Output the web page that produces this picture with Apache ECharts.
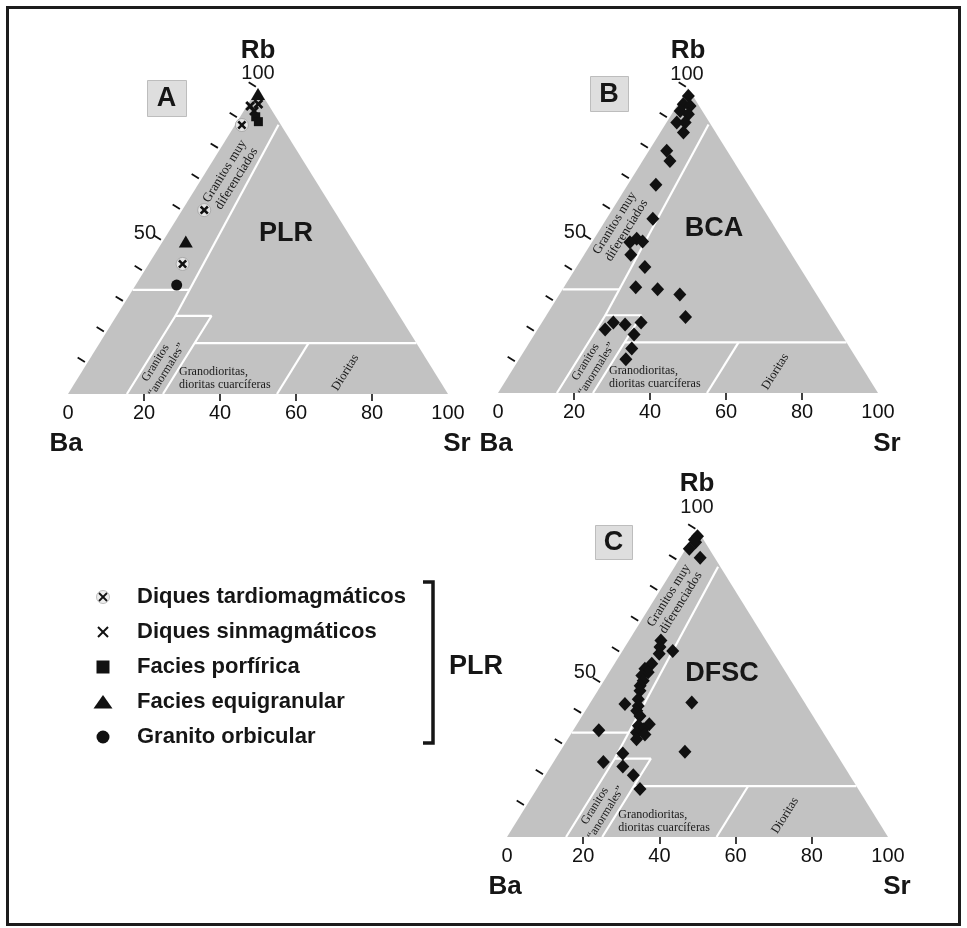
<!DOCTYPE html>
<html><head><meta charset="utf-8">
<script src="https://cdn.jsdelivr.net/npm/echarts@6/dist/echarts.min.js"></script>
<style>html,body{margin:0;padding:0;background:#fff}#c{width:967px;height:928px}</style>
</head><body><div id="c"></div>
<script>
// ===== DATA: compositions as [Sr %, Rb %]  (Ba = 100 - Sr - Rb) =====
// Diagram A - PLR
const plrDiquesTardio = [[1.8,87.9],[5.8,60.1],[8.9,42.5]];
const plrDiquesSinmag = [[0.9,94.1],[2.7,94.8],[2.7,92.5]];
const plrFaciesPorfirica = [[4.1,90.6],[5.6,89.0]];
const plrFaciesEquigranular = [[1.0,98.0],[6.1,49.8]];
const plrGranitoOrbicular = [[10.8,35.6]];
// Diagram B - BCA
const bcaSamples = [
  [1.4,97.4],[1.4,94.7],[3.5,94.1],[1.7,92.5],[4.4,91.4],[2.7,88.7],[4.9,88.7],[6.1,85.4],
  [4.7,79.4],[7.2,76.1],[7.4,68.3],[12.2,57.1],[11.2,50.6],[13.2,49.7],[10.0,49.4],[12.3,45.3],
  [18.0,41.3],[18.9,34.7],[25.0,34.0],[31.7,32.3],[36.9,24.9],[17.8,20.8],[18.8,23.1],[22.2,22.5],
  [26.1,23.1],[26.2,19.2],[27.9,14.6],[28.1,11.1]
];
// Diagram C - DFSC
const dfscSamples = [
  [1.0,98.0],[1.5,96.0],[0.8,96.8],[0.9,93.9],[5.2,91.0],
  [8.4,64.0],[9.2,61.9],[10.1,59.7],[13.2,60.6],[9.8,56.4],[8.8,54.8],[10.2,53.7],[9.1,52.6],
  [10.3,50.9],[10.3,49.3],[11.1,47.6],[12.0,44.9],[9.3,43.3],[13.1,42.7],[13.5,41.1],[15.2,39.4],
  [19.0,36.7],[16.4,36.2],[18.2,35.1],[17.0,34.0],[19.5,33.4],[18.1,31.8],
  [26.6,43.8],[6.7,34.8],[32.8,27.8],[16.8,27.2],[13.1,24.4],[18.9,23.0],[23.1,20.1],[27.1,15.6]
];
// Axis ticks / labels
const baseTickLabels = [0,20,40,60,80,100];
const baseTickMarks = [20,40,60,80];
const rbTicks = [10,20,30,40,50,60,70,80,90,100];
// Triangle vertices [Sr,Rb]: Ba, Sr, Rb
const vertices = [[0,0],[100,0],[0,100]];
// Field boundaries (polylines, [Sr,Rb])
const fieldBoundaries = [
  [[11.4,88],[15.5,25.5]],
  [[0,34],[14.9,34]],
  [[15.5,0],[15.5,25.5],[25,25.5],[25,0]],
  [[25,16.6],[83.4,16.6]],
  [[55,16.6],[55,0]]
];
const diagramNames = ['PLR','BCA','DFSC'];
const panelLetters = ['A','B','C'];
const legendNames = ['Diques tardiomagmáticos','Diques sinmagmáticos','Facies porfírica','Facies equigranular','Granito orbicular'];

// ===== LAYOUT =====
const layouts = [
  {left:68, top:88, width:380, height:306},
  {left:498, top:88, width:380, height:305},
  {left:507, top:530, width:381, height:307}
];
const muyAnchors = [[7.0,71.6],[5.0,54.5],[5.3,77.5]];
const SANS = '"Liberation Sans", Arial, Helvetica, sans-serif';
const SERIF = '"Liberation Serif", "Times New Roman", serif';
const toXY = p => [p[0] + p[1] / 2, p[1]];
const X_PATH = 'path://M2,0L5,3L8,0L10,2L7,5L10,8L8,10L5,7L2,10L0,8L3,5L0,2Z';

const chart = echarts.init(document.getElementById('c'));
const grid = [], xAxis = [], yAxis = [], series = [];

function edgeAngle(api){
  const o = api.coord([0,0]), t = api.coord([50,100]);
  return Math.atan2(o[1]-t[1], t[0]-o[0]);
}

layouts.forEach((l, g) => {
  grid.push({left:l.left, top:l.top, width:l.width, height:l.height, containLabel:false, outerBoundsMode:'none'});
  xAxis.push({gridIndex:g, type:'value', min:0, max:100, interval:20,
    axisLine:{show:false}, splitLine:{show:false},
    axisTick:{show:true, inside:false, length:7, customValues:baseTickMarks, lineStyle:{color:'#111', width:1.6}},
    axisLabel:{show:true, customValues:baseTickLabels, margin:9, fontSize:20, fontFamily:SANS, color:'#111', showMinLabel:true, showMaxLabel:true, hideOverlap:false}
  });
  yAxis.push({gridIndex:g, type:'value', min:0, max:100, show:false});

  // gray triangle
  series.push({type:'custom', xAxisIndex:g, yAxisIndex:g, silent:true, z:1, clip:false,
    data:[vertices.map(toXY).flat()],
    renderItem:(params, api) => {
      const pts = [0,1,2].map(k => api.coord([api.value(2*k), api.value(2*k+1)]));
      return {type:'polygon', shape:{points:pts}, style:{fill:'#c2c2c2', stroke:null}};
    }
  });
  // field boundaries
  fieldBoundaries.forEach(line => {
    series.push({type:'line', xAxisIndex:g, yAxisIndex:g, data:line.map(toXY), symbol:'none', silent:true, z:2,
      lineStyle:{color:'#ffffff', width:2.2}, clip:false});
  });
  // Rb ticks on the Ba-Rb side
  series.push({type:'custom', xAxisIndex:g, yAxisIndex:g, silent:true, z:3, clip:false,
    data:rbTicks.map(v => toXY([0, v])),
    renderItem:(params, api) => {
      const p = api.coord([api.value(0), api.value(1)]);
      const o = api.coord([0,0]), t = api.coord([50,100]);
      let dx = t[0]-o[0], dy = t[1]-o[1]; const L = Math.hypot(dx,dy); dx/=L; dy/=L;
      const nx = dy, ny = -dx;
      return {type:'line', shape:{x1:p[0]+2.5*nx, y1:p[1]+2.5*ny, x2:p[0]+11*nx, y2:p[1]+11*ny},
        style:{stroke:'#111', lineWidth:1.8}};
    }
  });
  // field labels
  const defs = [
    {at:muyAnchors[g], text:'Granitos muy\ndiferenciados', rot:true, size:13, align:'center'},
    {at:[20,9], text:'Granitos\n“anormales”', rot:true, size:12, align:'center'},
    {at:[26.6,5.2], text:'Granodioritas,\ndioritas cuarcíferas', rot:false, size:12, align:'left'},
    {at:[69.5,7], text:'Dioritas', rot:true, size:12.5, align:'center'}
  ];
  series.push({type:'custom', xAxisIndex:g, yAxisIndex:g, silent:true, z:4, clip:false,
    data:defs.map(d => toXY(d.at)),
    renderItem:(params, api) => {
      const d = defs[params.dataIndex];
      const p = api.coord([api.value(0), api.value(1)]);
      return {type:'text', x:p[0], y:p[1], rotation: d.rot ? edgeAngle(api) : 0,
        style:{text:d.text, x:0, y:0, align:d.align, verticalAlign:'middle',
          font: d.size + 'px ' + SERIF, fill:'#1a1a1a', lineHeight: Math.round(d.size*1.05)}};
    }
  });
});

const sc = (g, data, extra) => {
  const s = Object.assign({type:'scatter', xAxisIndex:g, yAxisIndex:g, data:data.map(toXY), z:10, clip:false}, extra);
  s.itemStyle = Object.assign({opacity:1}, s.itemStyle || {});
  return s;
};
// A
series.push(sc(0, plrDiquesTardio, {name:'Diques tardiomagmáticos', symbol:'circle', symbolSize:13, itemStyle:{color:'#e4e4e4', borderColor:'#a0a0a0', borderWidth:0.8}}));
series.push(sc(0, plrDiquesTardio, {symbol:X_PATH, symbolSize:9, z:11, itemStyle:{color:'#111'}}));
series.push(sc(0, plrDiquesSinmag, {name:'Diques sinmagmáticos', symbol:X_PATH, symbolSize:10, itemStyle:{color:'#111'}}));
series.push(sc(0, plrFaciesPorfirica, {name:'Facies porfírica', symbol:'rect', symbolSize:9, itemStyle:{color:'#111'}}));
series.push(sc(0, plrFaciesEquigranular, {name:'Facies equigranular', symbol:'triangle', symbolSize:[14,12], itemStyle:{color:'#111'}}));
series.push(sc(0, plrGranitoOrbicular, {name:'Granito orbicular', symbol:'circle', symbolSize:11, itemStyle:{color:'#111'}}));
// B, C
series.push(sc(1, bcaSamples, {name:'BCA', symbol:'diamond', symbolSize:[13,14], itemStyle:{color:'#111'}}));
series.push(sc(2, dfscSamples, {name:'DFSC', symbol:'diamond', symbolSize:[13,14], itemStyle:{color:'#111'}}));

// ===== graphic: frame, titles, legend =====
const G = [];
const txt = (x, y, text, font, align) => ({type:'text', x, y, z:100, silent:true,
  style:{text, font, fill:'#161616', align: align || 'center', verticalAlign:'middle'}});
G.push({type:'rect', z:100, shape:{x:7.5, y:7.5, width:952, height:917}, style:{fill:null, stroke:'#1c1c1c', lineWidth:3}, silent:true});

const titlePos = [
  {rb:[258,51], top:[258,73], fifty:[156,233], ba:[66,444], sr:[457,444], box:[147,80,39,36], name:[286,234]},
  {rb:[688,51], top:[687,74], fifty:[586,232], ba:[496,444], sr:[887,444], box:[590,76,38,35], name:[714,229]},
  {rb:[697,484], top:[697,507], fifty:[596,672], ba:[505,887], sr:[897,887], box:[595,525,37,34], name:[722,674]}
];
titlePos.forEach((t, i) => {
  G.push(txt(t.rb[0], t.rb[1], 'Rb', 'bold 26px ' + SANS));
  G.push(txt(t.top[0], t.top[1], '100', '20px ' + SANS));
  G.push(txt(t.fifty[0], t.fifty[1], '50', '20px ' + SANS, 'right'));
  G.push(txt(t.ba[0], t.ba[1], 'Ba', 'bold 26px ' + SANS));
  G.push(txt(t.sr[0], t.sr[1], 'Sr', 'bold 26px ' + SANS));
  G.push({type:'rect', z:100, shape:{x:t.box[0]+0.5, y:t.box[1]+0.5, width:t.box[2], height:t.box[3]}, style:{fill:'#dedede', stroke:'#bdbdbd', lineWidth:1}, silent:true});
  G.push(txt(t.box[0]+t.box[2]/2, t.box[1]+t.box[3]/2+1, panelLetters[i], 'bold 27px ' + SANS));
  G.push(txt(t.name[0], t.name[1], diagramNames[i], 'bold 27px ' + SANS));
});

// legend
const lx = 103, ly0 = 597, dy = 35;
legendNames.forEach((n, i) => {
  G.push(txt(137, ly0 + i*dy, n, 'bold 22px ' + SANS, 'left'));
});
let y = ly0;
const gz = o => Object.assign({z:100, silent:true}, o);
G.push(gz({type:'circle', shape:{cx:lx, cy:y, r:6.5}, style:{fill:'#eeeeee', stroke:'#b0b0b0', lineWidth:0.8}}));
G.push(gz({type:'line', shape:{x1:lx-4, y1:y-4, x2:lx+4, y2:y+4}, style:{stroke:'#111', lineWidth:1.8}}));
G.push(gz({type:'line', shape:{x1:lx+4, y1:y-4, x2:lx-4, y2:y+4}, style:{stroke:'#111', lineWidth:1.8}}));
y += dy;
G.push(gz({type:'line', shape:{x1:lx-5, y1:y-5, x2:lx+5, y2:y+5}, style:{stroke:'#111', lineWidth:2}}));
G.push(gz({type:'line', shape:{x1:lx+5, y1:y-5, x2:lx-5, y2:y+5}, style:{stroke:'#111', lineWidth:2}}));
y += dy;
G.push(gz({type:'rect', shape:{x:lx-6.5, y:y-6.5, width:13, height:13}, style:{fill:'#111'}}));
y += dy;
G.push(gz({type:'polygon', shape:{points:[[lx, y-7],[lx+9.5, y+6.5],[lx-9.5, y+6.5]]}, style:{fill:'#111'}}));
y += dy;
G.push(gz({type:'circle', shape:{cx:lx, cy:y, r:6.5}, style:{fill:'#111'}}));
// bracket
G.push(gz({type:'polyline', shape:{points:[[423,582],[433,582],[433,743],[423,743]]}, style:{stroke:'#161616', lineWidth:3.5, fill:null}}));
G.push(txt(449, 667, 'PLR', 'bold 27px ' + SANS, 'left'));

chart.setOption({
  animation:false,
  backgroundColor:'#ffffff',
  grid, xAxis, yAxis, series,
  graphic:{elements:G}
});
</script>
</body></html>
